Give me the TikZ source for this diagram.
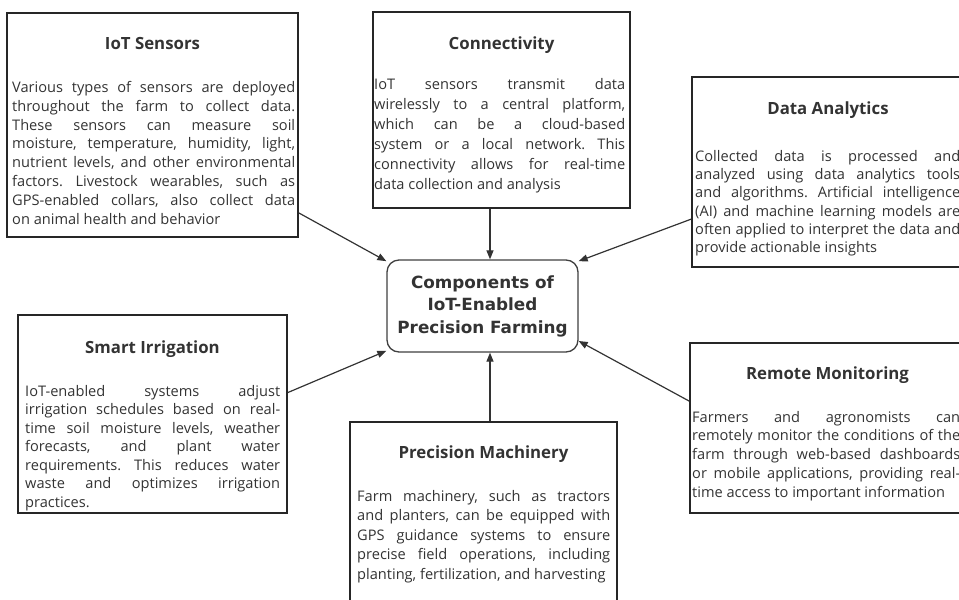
\documentclass[tikz,border=0pt]{standalone}
\usepackage{fontspec}
\setmainfont{Open Sans}
\newfontfamily\hubfont{DejaVu Sans}
\usetikzlibrary{arrows.meta}
\frenchspacing

\tikzset{
  card/.style={draw=black!85, line width=1.5pt, inner sep=0pt},
  hub/.style={draw=black!75, line width=1.3pt, rounded corners=12pt, fill=white,
    inner sep=0pt, minimum width=191pt, minimum height=92pt, align=center,
    text=black!80, font=\hubfont\bfseries\fontsize{16.8}{22.5}\selectfont},
  heading/.style={anchor=base, inner sep=0pt, text=black!80,
    font=\bfseries\fontsize{16.8}{20}\selectfont},
  body/.style={anchor=north west, inner sep=0pt, align=justify, text=black!80,
    font=\fontsize{14.6}{#1}\selectfont},
  link/.style={draw=black!80, line width=1.2pt, -{Triangle[length=9pt,width=7pt]}},
}
% keep the chosen line ends, never hyphenate, first line starts with a strut
\newcommand\fitlines{\frenchspacing\tolerance=10000\hbadness=10000\hyphenpenalty=10000\strut}

\begin{document}
\begin{tikzpicture}[x=1pt,y=-1pt]
\useasboundingbox (0,0) rectangle (959,600);

% central node
\node[hub] (hub) at (482.5,306) {\rule{0pt}{4pt}Components of\\IoT-Enabled\\Precision Farming};

% IoT Sensors
\node[card, minimum width=291pt, minimum height=224pt] (sens) at (152.5,125) {};
\node[heading] (sensT) at (152.5,49) {IoT Sensors};
\node[body=18.9, text width=283pt] (sensB) at (12,78.8) {\fitlines Various types of sensors are deployed\linebreak
throughout the farm to collect data.\linebreak
These sensors can measure soil\linebreak
moisture, temperature, humidity, light,\linebreak
nutrient levels, and other environmental\linebreak
factors. Livestock wearables, such as\linebreak
GPS-enabled collars, also collect data\linebreak
on animal health and behavior};

% Connectivity
\node[card, minimum width=257pt, minimum height=196pt] (conn) at (501.5,110) {};
\node[heading] (connT) at (501.5,49) {Connectivity};
\node[body=20, text width=251pt] (connB) at (374,75) {\fitlines IoT sensors transmit data\linebreak
wirelessly to a central platform,\linebreak
which can be a cloud-based\linebreak
system or a local network. This\linebreak
connectivity allows for real-time\linebreak
data collection and analysis};

% Data Analytics
\node[card, minimum width=272pt, minimum height=190pt] (data) at (828,172) {};
\node[heading] (dataT) at (828,114) {Data Analytics};
\node[body=18.3, text width=265pt] (dataB) at (695,148.2) {\fitlines Collected data is processed and\linebreak
analyzed using data analytics tools\linebreak
and algorithms. Artificial intelligence\linebreak
(AI) and machine learning models are\linebreak
often applied to interpret the data and\linebreak
provide actionable insights};

% Smart Irrigation
\node[card, minimum width=269pt, minimum height=198pt] (irr) at (152.5,414) {};
\node[heading] (irrT) at (152.5,353) {Smart Irrigation};
\node[body=18.5, text width=255pt] (irrB) at (25,383) {\fitlines IoT-enabled systems adjust\linebreak
irrigation schedules based on real-\linebreak
time soil moisture levels, weather\linebreak
forecasts, and plant water\linebreak
requirements. This reduces water\linebreak
waste and optimizes irrigation\linebreak
practices.};

% Remote Monitoring
\node[card, minimum width=275pt, minimum height=170pt] (remote) at (827.5,428) {};
\node[heading] (remoteT) at (827.5,379) {Remote Monitoring};
\node[body=18.75, text width=268pt] (remoteB) at (692,408.9) {\fitlines Farmers and agronomists can\linebreak
remotely monitor the conditions of the\linebreak
farm through web-based dashboards\linebreak
or mobile applications, providing real-\linebreak
time access to important information};

% Precision Machinery (runs off the lower edge)
\node[card, minimum width=267pt, minimum height=190pt] (mach) at (483.5,517) {};
\node[heading] (machT) at (483.5,458) {Precision Machinery};
\node[body=19.5, text width=253pt] (machB) at (357,487.3) {\fitlines Farm machinery, such as tractors\linebreak
and planters, can be equipped with\linebreak
GPS guidance systems to ensure\linebreak
precise field operations, including\linebreak
planting, fertilization, and harvesting};

% connectors into the central node
\draw[link] (sens.-31) -- (hub.155.7);
\draw[link] ([xshift=-11.5pt]conn.south) -- ([xshift=7.5pt]hub.north);
\draw[link] (data.199.2) -- (hub.25.4);
\draw[link] (irr.9.3) -- (hub.205.7);
\draw[link] (remote.169.3) -- (hub.-20.8);
\draw[link] ([xshift=6.5pt]mach.north) -- ([xshift=7.5pt]hub.south);
\end{tikzpicture}
\end{document}
